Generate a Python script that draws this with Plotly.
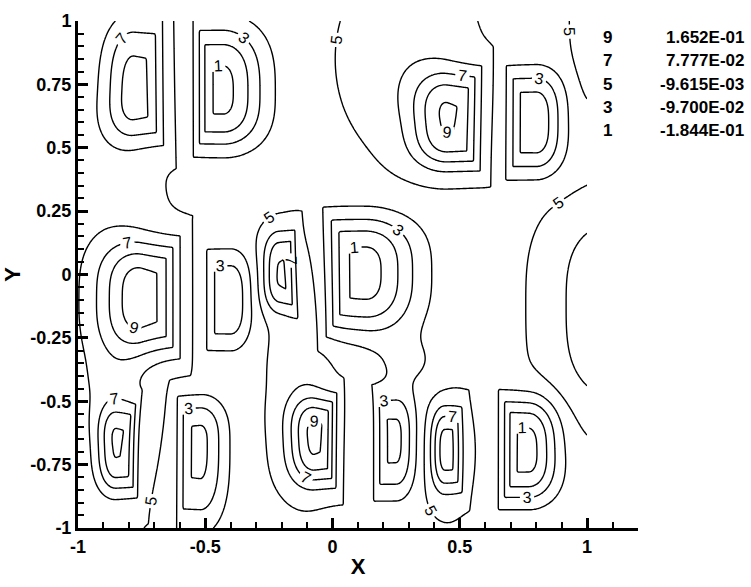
import numpy as np
import plotly.graph_objects as go

# Contour legend: level number and the field value of that level
legend_levels = [9, 7, 5, 3, 1]
legend_values = [1.652e-01, 7.777e-02, -9.615e-03, -9.700e-02, -1.844e-01]

# D-shaped extrema of the field
# bulge = -1: rounded side to the left, flat edge to the right (maxima)
# bulge = +1: rounded side to the right, flat edge to the left (minima)
cell_x     = [-0.78, -0.43, 0.452, 0.80, -0.75, -0.40, -0.21, 0.13, 1.09, -0.85, -0.52, -0.07, 0.25, 0.44, 0.77]
cell_y     = [0.72, 0.72, 0.60, 0.60, -0.09, -0.10, 0.01, 0.01, -0.12, -0.68, -0.67, -0.65, -0.65, -0.69, -0.69]
cell_peak  = [0.14, -0.195, 0.17, -0.17, 0.19, -0.13, 0.125, -0.20, 0.08, 0.17, -0.15, 0.175, -0.15, 0.14, -0.20]
cell_round = [0.12, 0.16, 0.14, 0.105, 0.16, 0.08, 0.065, 0.20, 0.22, 0.075, 0.10, 0.10, 0.075, 0.05, 0.115]
cell_flat  = [0.11, 0.10, 0.12, 0.105, 0.137, 0.09, 0.06, 0.145, 0.15, 0.075, 0.085, 0.078, 0.08, 0.065, 0.10]
cell_wtop  = [0.30, 0.26, 0.20, 0.20, 0.22, 0.19, 0.16, 0.22, 0.37, 0.165, 0.18, 0.165, 0.18, 0.16, 0.20]
cell_wbot  = [0.20, 0.22, 0.18, 0.20, 0.22, 0.19, 0.15, 0.24, 0.42, 0.18, 0.32, 0.18, 0.22, 0.16, 0.20]
cell_bulge = [-1, 1, -1, 1, -1, 1, -1, 1, -1, -1, 1, -1, 1, -1, 1]

# Slowly varying background level and its broad swells (negative = trough)
bg_level = -0.02
swell_x   = [-0.90, -0.85, -0.12, 0.30, 0.45, 1.00, 0.30]
swell_y   = [-0.10, -0.42, -0.35, 0.85, -0.70, 1.00, -0.35]
swell_sx  = [0.22, 0.12, 0.12, 0.25, 0.10, 0.06, 0.15]
swell_sy  = [0.90, 0.15, 0.45, 0.35, 0.25, 0.30, 0.12]
swell_amp = [0.045, 0.035, 0.040, 0.040, 0.035, 0.040, -0.040]

# Axis ticks
x_ticks = [-1, -0.5, 0, 0.5, 1]
x_tick_text = ["-1", "-0.5", "0", "0.5", "1"]
y_ticks = [-1, -0.75, -0.5, -0.25, 0, 0.25, 0.5, 0.75, 1]
y_tick_text = ["-1", "-0.75", "-0.5", "-0.25", "0", "0.25", "0.5", "0.75", "1"]

# Level spacing from the legend
lvl_lo = min(legend_values)
lvl_step = (max(legend_values) - lvl_lo) / (max(legend_levels) - min(legend_levels))


def background(px, py):
    out = np.full(np.broadcast(px, py).shape, bg_level, dtype=float)
    for x0, y0, sx, sy, a in zip(swell_x, swell_y, swell_sx, swell_sy, swell_amp):
        out = out + a * np.exp(-((px - x0) / sx) ** 2 - ((py - y0) / sy) ** 2)
    return out


gx = np.linspace(-1.0, 1.0, 401)
gy = np.linspace(-1.0, 1.0, 401)
X, Y = np.meshgrid(gx, gy)
Z = background(X, Y)
for xc, yc, pk, wr, wf, wt, wb, s in zip(cell_x, cell_y, cell_peak, cell_round,
                                           cell_flat, cell_wtop, cell_wbot, cell_bulge):
    amp = pk - float(background(np.array(xc), np.array(yc)))
    d = s * (X - xc)
    dy = Y - yc
    wy = np.where(dy > 0, wt, wb)
    v = (np.abs(dy) / wy) ** 3
    # rounded side: elliptic; flat side: box-shaped with a steep edge
    r2 = np.where(d >= 0, (d / wr) ** 2 + v, np.maximum((np.abs(d) / wf) ** 3, v))
    Z = Z + amp * np.exp(-r2)

# field expressed in level numbers
Zi = 1.0 + (Z - lvl_lo) / lvl_step

font_family = "Liberation Sans, Arial, sans-serif"
black = [[0, "black"], [1, "black"]]

fig = go.Figure()
fig.add_trace(go.Contour(
    x=gx, y=gy, z=Zi, colorscale=black, showscale=False, hoverinfo="skip",
    contours=dict(start=2, end=10, size=2, coloring="lines", showlabels=False),
    line=dict(width=1.4),
))
fig.add_trace(go.Contour(
    x=gx, y=gy, z=Zi, colorscale=black, showscale=False, hoverinfo="skip",
    contours=dict(start=1, end=11, size=2, coloring="lines", showlabels=True,
                  labelformat=".0f",
                  labelfont=dict(size=16, color="black", family=font_family)),
    line=dict(width=1.4),
))

L, R, T, B = 75, 113, 11, 54
plot_w = 751 - L - R
plot_h = 587 - T - B


def px_x(p):
    return (p - L) / plot_w


def px_y(p):
    return (587 - B - p) / plot_h


for i, (lv, val) in enumerate(zip(legend_levels, legend_values)):
    yy = px_y(28 + 24 * i)
    fig.add_annotation(x=px_x(607), y=yy, xref="paper", yref="paper", text=str(lv),
                       showarrow=False, xanchor="center", yanchor="middle",
                       font=dict(size=17, color="black", family=font_family, weight="bold"))
    fig.add_annotation(x=px_x(747), y=yy, xref="paper", yref="paper", text=f"{val:.3E}",
                       showarrow=False, xanchor="right", yanchor="middle",
                       font=dict(size=17, color="black", family=font_family, weight="bold"))

axis_common = dict(
    showgrid=False, zeroline=False, showline=True, linewidth=3, linecolor="black",
    ticks="inside", ticklen=10, tickwidth=2.5, tickcolor="black",
    tickfont=dict(size=18, color="black", family=font_family, weight="bold"),
)
fig.update_layout(
    width=751, height=587, margin=dict(l=L, r=R, t=T, b=B),
    paper_bgcolor="white", plot_bgcolor="white",
    xaxis=dict(range=[-1, 1.2], tickvals=x_ticks, ticktext=x_tick_text,
               minor=dict(ticks="inside", ticklen=6, tickwidth=1.5, dtick=0.1, tick0=0, tickcolor="black"),
               title=dict(text="X", standoff=4,
                          font=dict(size=22, color="black", family=font_family, weight="bold")),
               **axis_common),
    yaxis=dict(range=[-1, 1], tickvals=y_ticks, ticktext=y_tick_text,
               minor=dict(ticks="inside", ticklen=6, tickwidth=1.5, dtick=0.05, tick0=0, tickcolor="black"),
               title=dict(text="Y", standoff=4,
                          font=dict(size=22, color="black", family=font_family, weight="bold")),
               **axis_common),
    showlegend=False,
)

fig.write_html("out.html")
